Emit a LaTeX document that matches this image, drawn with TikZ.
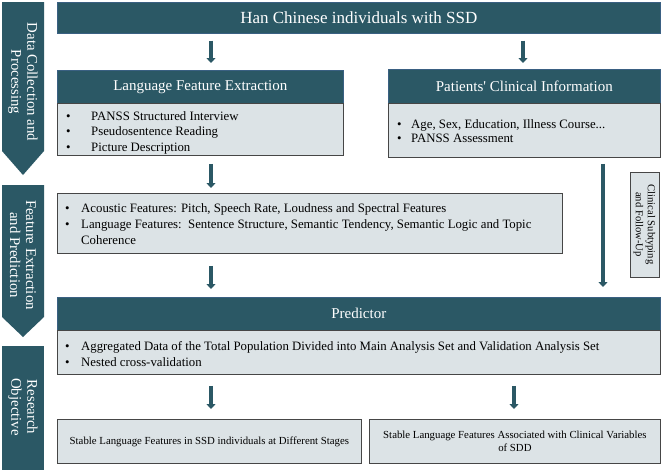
\documentclass[tikz,border=0pt]{standalone}
\usepackage{fontspec}
\setmainfont{Liberation Serif}
\usetikzlibrary{arrows.meta}
\definecolor{tealdark}{RGB}{43,88,101}
\definecolor{hdredge}{RGB}{58,96,130}
\definecolor{bodyfill}{RGB}{220,227,230}
\definecolor{boxedge}{RGB}{70,70,70}
\begin{document}
\begin{tikzpicture}[x=1pt,y=-1pt,
  hdr/.style={fill=tealdark, draw=hdredge, line width=0.6pt, inner sep=0pt, text=white, font=\fontsize{15}{18}\selectfont, anchor=north west},
  bodybox/.style={fill=bodyfill, draw=boxedge, line width=0.8pt, inner sep=0pt, anchor=north west},
  arr/.style={draw=tealdark, line width=3.2pt, -{Triangle[width=9pt,length=5pt]}},
  txt/.style={inner sep=0pt, anchor=base west},
  bantxt/.style={text=white, rotate=-90, align=center, inner sep=0pt, font=\fontsize{14.8}{16}\selectfont},
  outtxt/.style={font=\fontsize{10.8}{13}\selectfont, align=center}
]
\useasboundingbox (0,0) rectangle (661,472);
\fill[white] (0,0) rectangle (661,472);

% left banners
\fill[tealdark] (2,2) -- (44,2) -- (44,151) -- (23,175) -- (2,151) -- cycle;
\fill[tealdark] (2,185) -- (44,185) -- (44,317) -- (23,337) -- (2,317) -- cycle;
\fill[tealdark] (2,346) rectangle (44,470);
\node[bantxt] (ban1) at (23,82) {Data Collection and\\Processing};
\node[bantxt] (ban2) at (23,255) {Feature Extraction\\and Prediction};
\node[bantxt] (ban3) at (23,407) {Research\\Objective};

% boxes
\node[hdr, minimum width=603pt, minimum height=31pt, font=\fontsize{17}{20}\selectfont] (title) at (57,2) {Han Chinese individuals with SSD};
\node[hdr, minimum width=286pt, minimum height=33pt] (langh) at (57,70) {Language Feature Extraction};
\node[bodybox, minimum width=286pt, minimum height=52pt] (langb) at (57,103) {};
\node[hdr, minimum width=272pt, minimum height=34pt] (path) at (388,69) {Patients\textquotesingle\ Clinical Information};
\node[bodybox, minimum width=272pt, minimum height=54pt] (patb) at (388,103) {};
\node[bodybox, minimum width=505pt, minimum height=60pt] (acou) at (57,193) {};
\node[bodybox, anchor=center, rotate=-90, minimum width=105pt, minimum height=29pt, align=center, font=\fontsize{10.6}{12}\selectfont] (clin) at (644.5,224.5) {Clinical Subtyping\\and Follow-Up};
\node[hdr, minimum width=603pt, minimum height=33pt] (predh) at (57,297) {Predictor};
\node[bodybox, minimum width=603pt, minimum height=44pt] (predb) at (57,330) {};
\node[bodybox, minimum width=304pt, minimum height=44pt, outtxt] (out1) at (57,419) {Stable Language Features in SSD individuals at Different Stages};
\node[bodybox, minimum width=291pt, minimum height=44pt, outtxt] (out2) at (369,419) {Stable Language Features Associated with Clinical Variables\\of SDD};

% bullet texts
\node[txt, font=\fontsize{12.8}{15.5}\selectfont] (langt) at (66,120) {\begin{tabular}[t]{@{}p{25pt}@{}l@{}}\textbullet & PANSS Structured Interview\\ \textbullet & Pseudosentence Reading\\ \textbullet & Picture Description\end{tabular}};
\node[txt, font=\fontsize{12.8}{14}\selectfont] (patt) at (397,128) {\begin{tabular}[t]{@{}p{14pt}@{}l@{}}\textbullet & Age, Sex, Education, Illness Course...\\ \textbullet & PANSS Assessment\end{tabular}};
\node[txt, font=\fontsize{12.8}{16}\selectfont] (acout) at (65,212) {\begin{tabular}[t]{@{}p{16pt}@{}l@{}}\textbullet & Acoustic Features: Pitch, Speech Rate, Loudness and Spectral Features\\ \textbullet & Language Features:\ \ Sentence Structure, Semantic Tendency, Semantic Logic and Topic\\ & Coherence\end{tabular}};
\node[txt, font=\fontsize{12.8}{16}\selectfont] (predt) at (65,350) {\begin{tabular}[t]{@{}p{16pt}@{}l@{}}\textbullet & Aggregated Data of the Total Population Divided into Main Analysis Set and Validation Analysis Set\\ \textbullet & Nested cross-validation\end{tabular}};

% arrow columns
\coordinate (xa) at (211,0);
\coordinate (xb) at (523,0);
\coordinate (xc) at (603,0);
\coordinate (xd) at (514,0);

\draw[arr, shorten <=7pt, shorten >=7pt] (title.south -| xa) -- (langh.north -| xa);
\draw[arr, shorten <=7pt, shorten >=6pt] (title.south -| xb) -- (path.north -| xb);
\draw[arr, shorten <=8pt, shorten >=5pt] (langb.south -| xa) -- (acou.north -| xa);
\draw[arr, shorten <=12pt, shorten >=8pt] (acou.south -| xa) -- (predh.north -| xa);
\draw[arr, shorten <=6pt, shorten >=10pt] (patb.south -| xc) -- (predh.north -| xc);
\draw[arr, shorten <=11pt, shorten >=10pt] (predb.south -| xa) -- (out1.north -| xa);
\draw[arr, shorten <=11pt, shorten >=10pt] (predb.south -| xd) -- (out2.north -| xd);
\end{tikzpicture}
\end{document}
